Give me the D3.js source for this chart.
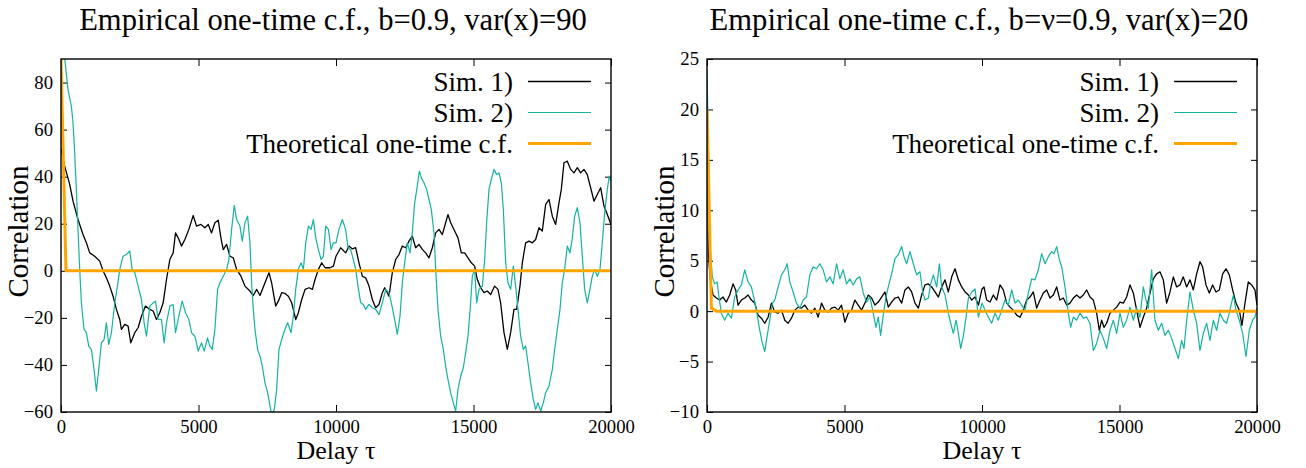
<!DOCTYPE html>
<html>
<head>
<meta charset="utf-8">
<script src="https://cdn.jsdelivr.net/npm/d3@7"></script>
<style>
  body { margin: 0; background: #fff; }
  text { font-family: "Liberation Serif", "Times New Roman", serif; fill: #000; }
</style>
</head>
<body>
<div id="chart"></div>
<script>
// delay values [tau, correlation]
const xTicks = [0, 5000, 10000, 15000, 20000];
const yTicksLeft = [-60, -40, -20, 0, 20, 40, 60, 80];
const yTicksRight = [-10, -5, 0, 5, 10, 15, 20, 25];
const legendNames = ['Sim. 1)', 'Sim. 2)', 'Theoretical one-time c.f.'];
const titles = ['Empirical one-time c.f., b=0.9, var(x)=90', 'Empirical one-time c.f., b=\u03bd=0.9, var(x)=20'];

const sim1Left = [[0,52],[134,44.5],[316,36.7],[437,29.6],[619,21.8],[801,15.4],[923,11.9],[1044,7.6],[1226,6.2],[1408,4.1],
  [1530,0],[1651,-3],[1772,-6.5],[1894,-10.8],[2015,-16.4],[2137,-20.7],[2197,-24.9],[2319,-22.8],[2440,-23.5],[2537,-30.6],
  [2683,-26.3],[2804,-24.2],[2926,-19.3],[3071,-15],[3229,-16.4],[3350,-17.1],[3472,-20.7],[3593,-17.8],[3715,-13.6],[3836,-3.7],
  [3958,4.8],[4079,7.6],[4164,16.1],[4261,14],[4382,10.5],[4504,13.3],[4650,17.6],[4807,23.5],[4929,19],[5087,19.7],
  [5232,18.3],[5354,19.7],[5475,16.1],[5596,20.4],[5718,21.5],[5815,14],[5900,9],[6021,11.2],[6143,6.2],[6264,5.5],
  [6386,0.6],[6544,-2.3],[6689,-6.5],[6871,-8.6],[6993,-10.5],[7114,-7.9],[7236,-10.5],[7393,-5.8],[7563,-0.8],[7660,-5.1],
  [7806,-15],[7903,-12.9],[8025,-9.3],[8146,-9.6],[8268,-10.8],[8389,-13.6],[8535,-20.7],[8632,-17.8],[8753,-12.2],[8875,-7.9],
  [9020,-7.2],[9141,-7.9],[9238,-3.7],[9360,0.6],[9481,3.4],[9603,1.3],[9785,1.3],[9906,2],[10000,6.2],[10170,9.8],
  [10352,7.6],[10473,10.5],[10594,9.3],[10715,9.8],[10836,3.4],[10957,-2.3],[11079,-3],[11200,-6.5],[11321,-12.2],[11442,-15.7],
  [11563,-14.3],[11685,-9.3],[11770,-7.2],[11927,-10.8],[12048,-0.8],[12170,4.8],[12291,6.9],[12412,10.5],[12533,9.8],[12654,12.6],
  [12775,14.7],[12897,9.8],[13018,11.2],[13139,9.1],[13260,7.6],[13381,5.5],[13503,9.8],[13624,16.1],[13745,17.6],[13866,15.4],
  [13987,20.4],[14072,23.9],[14169,20.4],[14315,16.9],[14436,14],[14557,7.6],[14678,7.6],[14800,5.5],[14921,3.4],[15042,2],
  [15139,-3.7],[15260,-7.2],[15381,-9.3],[15502,-8.6],[15624,-10.1],[15769,-6.5],[15890,-7.9],[15987,-13.6],[16109,-26.3],[16230,-33.4],
  [16351,-26.3],[16472,-16.4],[16569,-16.4],[16690,-6.5],[16775,3.4],[16896,11.9],[17018,12.6],[17139,11.9],[17260,13.3],[17381,18.3],
  [17502,16.9],[17624,28.2],[17745,30.3],[17866,23.2],[17987,19.7],[18108,28.9],[18193,34.6],[18290,45.9],[18411,46.6],[18532,43.1],
  [18654,41.6],[18775,43.8],[18896,41.6],[19017,43.1],[19138,40.9],[19260,35.3],[19381,29.6],[19502,32.4],[19623,35.3],[19745,27.5],
  [19866,23.9],[20000,19.7]];

const sim2Left = [[0,104],[134,90.5],[255,77],[376,70],[437,62.9],[498,50],[558,34.6],[619,17.6],[680,0.6],[741,-13.6],
  [838,-24.9],[923,-26.3],[1008,-32],[1105,-33.4],[1202,-41.9],[1287,-51.1],[1372,-41.9],[1469,-30.6],[1566,-29.2],[1651,-22.1],
  [1736,-31.3],[1833,-26.3],[1955,-13.6],[2052,-6.5],[2137,0.6],[2258,6.2],[2379,6.9],[2501,8.4],[2586,0.6],[2683,-0.8],
  [2804,-6.5],[2926,-12.2],[3023,-22.1],[3108,-27.8],[3229,-15],[3351,-13.6],[3436,-12.9],[3533,-20.7],[3654,-20.7],[3751,-30.6],
  [3836,-22.1],[3958,-15],[4079,-14.3],[4164,-26.3],[4285,-19.3],[4407,-12.9],[4528,-17.8],[4650,-20.7],[4747,-26.3],[4868,-27.8],
  [4990,-34.1],[5111,-30.6],[5208,-34.1],[5329,-28.5],[5414,-32],[5499,-33.4],[5596,-24.9],[5694,-7.9],[5779,-5.1],[5900,-2.3],
  [6021,0.6],[6106,4.8],[6204,17.6],[6301,27.8],[6386,21.8],[6507,19],[6592,12.6],[6689,20.4],[6786,23.2],[6871,11.9],
  [6932,-5.1],[6993,-16.4],[7053,-24.9],[7150,-33.4],[7235,-36.3],[7320,-40.5],[7418,-47.6],[7515,-51.8],[7600,-57.5],[7660,-61],
  [7757,-58.9],[7842,-50.4],[7927,-33.4],[8025,-29.2],[8122,-25.6],[8243,-22.1],[8364,-26.3],[8449,-19.3],[8534,-7.9],[8632,0.6],
  [8729,3.4],[8814,0.6],[8899,11.9],[8996,19],[9093,17.6],[9178,21.8],[9263,14],[9360,9],[9457,4.8],[9542,6.2],
  [9627,19],[9724,17.6],[9821,9],[9906,11.9],[10000,11.9],[10109,17.6],[10230,21.8],[10351,17.6],[10436,9.8],[10533,9],
  [10630,4.8],[10715,0.6],[10800,-6.5],[10897,-13.6],[10994,-14.3],[11079,-16.4],[11200,-14.3],[11321,-15.7],[11442,-16.4],[11563,-18.6],
  [11685,-13.6],[11806,-7.9],[11927,-9.3],[12012,-13.6],[12109,-19.3],[12230,-27],[12327,-19.3],[12412,-5.1],[12497,3.4],[12594,11.9],
  [12691,7.6],[12775,16.1],[12860,28.9],[12957,36],[13030,42.4],[13103,39.5],[13200,37.4],[13297,34.6],[13381,30.3],[13466,26.1],
  [13563,16.1],[13624,0.6],[13709,-16.4],[13806,-27.8],[13903,-33.4],[13987,-40.5],[14072,-46.2],[14169,-51.8],[14266,-56.1],[14351,-59.6],
  [14436,-50.4],[14533,-44.8],[14630,-41.2],[14715,-34.8],[14800,-27.8],[14896,-13.6],[14957,-2.3],[15042,0.6],[15115,-13.6],[15200,-7.9],
  [15321,-6.5],[15406,4.8],[15478,20.4],[15563,34.6],[15648,38.8],[15745,43.1],[15842,40.9],[15927,41.6],[16012,37.4],[16085,26.1],
  [16169,3.4],[16254,-5.1],[16351,-7.9],[16448,2],[16533,-6.5],[16618,-16.4],[16714,-27.8],[16811,-33.4],[16896,-32],[16981,-39.1],
  [17078,-47.6],[17175,-54.7],[17260,-58.9],[17345,-56.1],[17442,-59.6],[17539,-56.1],[17624,-51.8],[17745,-49],[17866,-41.9],[17951,-33.4],
  [18048,-24.9],[18145,-16.4],[18229,-5.1],[18314,0.6],[18411,10.5],[18508,7.6],[18593,14],[18678,23.2],[18775,26.8],[18872,20.4],
  [18957,6.2],[19042,-7.9],[19138,-13.6],[19235,-7.9],[19320,-2.3],[19405,0.6],[19502,-2.3],[19599,0.6],[19684,11.9],[19769,24.6],
  [19866,34.6],[19938,40.2],[20000,38]];

const theoryLeft = [[0,90],[180,0],[20000,0]];

const sim1Right = [[0,21],[49,5.7],[121,3.1],[219,1.6],[340,1.3],[461,1.1],[583,1.4],[704,0.9],[826,1.6],[947,2.7],
  [1044,2.1],[1129,0.6],[1250,1.1],[1372,1.3],[1493,1.6],[1615,1.1],[1736,0.8],[1857,-0.4],[1979,-0.7],[2100,-1.2],
  [2222,-0.6],[2343,0.8],[2464,-0.1],[2586,-0.2],[2707,0.1],[2829,-0.9],[2950,-1.2],[3071,-0.7],[3193,0.1],[3314,0.4],
  [3436,0.3],[3557,0.6],[3678,0.1],[3800,-0.2],[3921,0.3],[4043,-0.6],[4164,0.8],[4285,0.1],[4407,-0.1],[4528,0.3],
  [4650,0.4],[4771,0.1],[4892,0.6],[5014,-1.1],[5135,-0.2],[5257,0.1],[5378,1.1],[5499,0.6],[5621,0.1],[5742,0.8],
  [5864,1.6],[5985,1.3],[6106,0.6],[6228,0.9],[6349,1.4],[6471,1.9],[6592,0.4],[6713,0.9],[6835,1.3],[6956,1.4],
  [7078,0.8],[7199,2.1],[7320,2.4],[7442,1.9],[7563,0.8],[7685,0.3],[7806,1.6],[7927,2.6],[8049,2.7],[8170,2.4],
  [8292,1.9],[8413,1.4],[8534,2.4],[8656,3.1],[8777,1.9],[8899,3.4],[9020,4.2],[9141,3.1],[9263,2.4],[9384,1.9],
  [9505,1.6],[9627,1.1],[9748,1.4],[9870,0.6],[10000,2.2],[10073,2.4],[10170,1.1],[10291,0.9],[10412,1.6],[10533,1.1],
  [10654,2.6],[10776,2.1],[10897,0.8],[11018,0.4],[11139,0.1],[11260,-0.4],[11382,-0.6],[11503,0.1],[11624,1.1],[11745,1.4],
  [11866,1.9],[11988,0.3],[12109,1.1],[12230,1.8],[12351,2.1],[12472,1.3],[12594,1.6],[12715,2.4],[12836,1.1],[12957,1.3],
  [13078,0.6],[13200,0.8],[13321,1.3],[13442,1.6],[13563,1.3],[13684,1.6],[13806,2.1],[13927,1.4],[14048,1.1],[14169,-0.2],
  [14266,-1.9],[14351,-0.9],[14436,-1.6],[14533,-1.2],[14654,-0.2],[14775,0.1],[14896,0.4],[15018,0.9],[15139,0.8],[15260,1.4],
  [15381,2.6],[15502,1.8],[15624,0.1],[15745,-1.6],[15866,-0.6],[15987,0.3],[16109,1.8],[16230,3.2],[16351,3.7],[16472,3.9],
  [16593,3.1],[16714,0.8],[16836,1.9],[16957,3.4],[17078,2.4],[17199,2.6],[17320,3.4],[17442,2.4],[17563,3.1],[17684,2.1],
  [17805,3.7],[17927,4.9],[18023,4.4],[18145,2.6],[18266,1.8],[18387,2.6],[18508,1.9],[18629,2.1],[18751,3.7],[18872,4.2],
  [18993,3.6],[19114,2.1],[19235,0.8],[19357,0.1],[19454,-1.4],[19563,0.8],[19684,2.9],[19805,2.6],[19926,2.1],[20000,0.6]];

const sim2Right = [[0,24],[121,6],[194,3.4],[279,2.7],[364,2.9],[437,1.4],[522,-0.2],[643,-0.9],[765,-0.2],[886,-0.7],
  [1008,1.4],[1129,2.1],[1250,2.6],[1372,4.1],[1493,2.9],[1615,2.4],[1700,1.4],[1797,0.1],[1918,-1.9],[2015,-3.2],
  [2100,-4],[2185,-2.5],[2282,-0.9],[2379,0.8],[2464,1.1],[2586,2.4],[2707,3.6],[2829,4.1],[2914,4.7],[3011,2.9],
  [3132,1.9],[3254,0.8],[3375,0.3],[3496,1.1],[3618,1.4],[3739,3.6],[3861,4.4],[3982,4.2],[4103,4.7],[4225,4.1],
  [4346,2.9],[4468,3.4],[4589,2.7],[4710,4.7],[4832,3.2],[4953,4.1],[5075,2.7],[5196,3.2],[5317,2.6],[5439,3.2],
  [5560,3.4],[5682,1.8],[5803,0.9],[5924,1.4],[6046,-0.2],[6143,-1.6],[6228,-0.6],[6313,-2.4],[6410,-0.4],[6507,1.4],
  [6592,2.4],[6713,3.7],[6835,5.2],[6956,5.6],[7078,6.4],[7163,5.4],[7260,4.7],[7381,5.9],[7503,4.7],[7624,3.6],
  [7745,3.9],[7842,1.9],[7927,1.1],[8049,1.3],[8134,2.7],[8231,3.6],[8352,2.4],[8449,4.7],[8534,2.4],[8656,1.6],
  [8777,-0.2],[8862,-1.2],[8959,-2.2],[9056,-0.9],[9141,-2.2],[9226,-3.7],[9324,-2.4],[9421,-0.6],[9505,1.3],[9627,1.9],
  [9748,2.2],[9870,-0.6],[10000,0.8],[10109,0.1],[10230,-0.6],[10351,-1.2],[10473,-0.2],[10594,-0.9],[10715,0.1],[10836,1.1],
  [10957,0.6],[11079,2.1],[11200,0.8],[11321,1.1],[11442,0.6],[11563,0.1],[11685,1.8],[11806,3.2],[11927,3.1],[12048,4.1],
  [12170,5.7],[12291,4.7],[12412,5.4],[12533,5.9],[12618,5.7],[12715,6.4],[12812,5.1],[12897,4.4],[13018,2.4],[13139,-0.2],
  [13224,-1.6],[13321,-0.6],[13442,-0.9],[13563,-0.2],[13684,-0.7],[13806,-0.6],[13927,-1.2],[14048,-3.9],[14169,-3.2],[14290,-1.9],
  [14412,-2.7],[14533,-3.7],[14654,-1.9],[14775,-0.9],[14896,-2.2],[15018,-0.2],[15139,-1.6],[15260,-0.9],[15381,0.4],[15502,-0.9],
  [15624,0.3],[15745,-0.6],[15866,2.4],[15963,1.1],[16048,0.3],[16169,4.1],[16290,-0.9],[16412,-1.9],[16533,-1.2],[16654,-2.4],
  [16775,-1.9],[16896,-2.7],[17018,-3.7],[17139,-4.7],[17260,-2.9],[17345,-3.7],[17442,-0.9],[17563,1.9],[17684,0.1],[17805,-1.2],
  [17927,-3.9],[18048,-2.2],[18169,-1.2],[18290,-2.9],[18411,-0.9],[18532,-1.9],[18654,-0.2],[18775,-0.9],[18896,-1.2],[19017,0.1],
  [19138,1.6],[19235,0.1],[19357,-0.9],[19478,-2.2],[19599,-4.5],[19720,-1.9],[19841,-0.9],[19926,-0.6],[20000,0.3]];

const theoryRight = [[0,20],[160,0.3],[340,0],[20000,0]];

const width = 1306;
const height = 468;
const colors = ['#000000', '#14b4a0', '#ffa500'];
const lineWidths = [1.3, 1.2, 3];

const svg = d3.select('#chart').append('svg').attr('width', width).attr('height', height);
svg.append('rect').attr('width', width).attr('height', height).attr('fill', '#fff');

function drawPanel(id, left, right, top, bottom, yDomain, yTicks, title, series)
{
    const x = d3.scaleLinear().domain([0, 20000]).range([left, right]);
    const y = d3.scaleLinear().domain(yDomain).range([bottom, top]);
    const g = svg.append('g');

    g.append('clipPath').attr('id', 'clip' + id).append('rect')
        .attr('x', left).attr('y', top).attr('width', right - left).attr('height', bottom - top);

    // axes with inward ticks, mirrored on top and right
    g.append('g').attr('transform', `translate(0, ${bottom})`)
        .call(d3.axisBottom(x).tickValues(xTicks).tickSize(-7).tickPadding(8).tickFormat(d3.format('d')))
        .call(a => a.select('.domain').remove());
    g.append('g').attr('transform', `translate(0, ${top})`)
        .call(d3.axisTop(x).tickValues(xTicks).tickSize(-7).tickFormat(''))
        .call(a => a.select('.domain').remove());
    g.append('g').attr('transform', `translate(${left}, 0)`)
        .call(d3.axisLeft(y).tickValues(yTicks).tickSize(-6).tickPadding(8))
        .call(a => a.select('.domain').remove());
    g.append('g').attr('transform', `translate(${right}, 0)`)
        .call(d3.axisRight(y).tickValues(yTicks).tickSize(-6).tickFormat(''))
        .call(a => a.select('.domain').remove());
    g.selectAll('.tick text').attr('font-size', '18.7px').attr('font-family', '"Liberation Serif", serif').attr('fill', '#000');
    g.selectAll('.tick line').attr('stroke', '#000').attr('stroke-width', 1);

    const line = d3.line().x(d => x(d[0])).y(d => y(d[1]));
    const plot = g.append('g').attr('clip-path', `url(#clip${id})`);
    series.forEach((s, i) => {
        plot.append('path').datum(s).attr('d', line).attr('fill', 'none')
            .attr('stroke', colors[i]).attr('stroke-width', lineWidths[i]).attr('stroke-linejoin', 'round');
    });

    g.append('rect').attr('x', left).attr('y', top).attr('width', right - left).attr('height', bottom - top)
        .attr('fill', 'none').attr('stroke', '#000').attr('stroke-width', 1.4);

    // legend
    legendNames.forEach((name, i) => {
        const ly = 81.5 + i * 31;
        g.append('text').attr('x', right - 98).attr('y', ly + 9).attr('text-anchor', 'end')
            .attr('font-size', '27px').text(name);
        g.append('line').attr('x1', right - 83).attr('x2', right - 20).attr('y1', ly).attr('y2', ly)
            .attr('stroke', colors[i]).attr('stroke-width', lineWidths[i]);
    });

    g.append('text').attr('x', (left + right) / 2 - 3).attr('y', 30).attr('text-anchor', 'middle')
        .attr('font-size', '30.6px').text(title);
    g.append('text').attr('x', (left + right) / 2).attr('y', 459).attr('text-anchor', 'middle')
        .attr('font-size', '26px').text('Delay \u03c4');
    g.append('text').attr('transform', `translate(${left - 33}, ${(top + bottom) / 2 - 4}) rotate(-90)`)
        .attr('text-anchor', 'middle').attr('font-size', '29px').text('Correlation');
}

drawPanel('L', 61, 611, 59, 412, [-60, 90], yTicksLeft, titles[0], [sim1Left, sim2Left, theoryLeft]);
drawPanel('R', 707, 1257, 59, 412, [-10, 25], yTicksRight, titles[1], [sim1Right, sim2Right, theoryRight]);
</script>
</body>
</html>
